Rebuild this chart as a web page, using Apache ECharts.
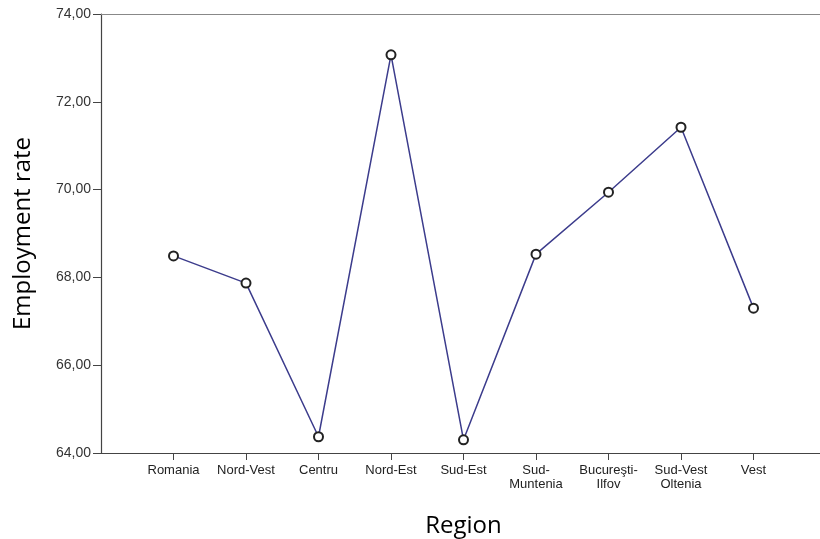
<!DOCTYPE html>
<html>
<head>
<meta charset="utf-8">
<script src="https://cdn.jsdelivr.net/npm/echarts@6/dist/echarts.min.js"></script>
<style>html,body{margin:0;padding:0;background:#fff;}#c{width:820px;height:539px;}</style>
</head>
<body>
<div id="c"></div>
<script>
const regions = ['Romania', 'Nord-Vest', 'Centru', 'Nord-Est', 'Sud-Est', 'Sud-\nMuntenia', 'Bucureşti-\nIlfov', 'Sud-Vest\nOltenia', 'Vest'];
const employmentRate = [68.49, 67.87, 64.37, 73.07, 64.30, 68.53, 69.94, 71.42, 67.30];
const yTicks = [64, 66, 68, 70, 72, 74];

const cats = [''].concat(regions, ['']);
const vals = [null].concat(employmentRate, [null]);

const chart = echarts.init(document.getElementById('c'), null, {renderer: 'canvas'});
chart.setOption({
  animation: false,
  backgroundColor: '#ffffff',
  grid: {left: 101, top: 14, width: 725, height: 439, containLabel: false, outerBoundsMode: 'none'},
  xAxis: [{
    type: 'category',
    data: cats,
    boundaryGap: false,
    axisLine: {lineStyle: {color: '#444', width: 1.2}},
    axisTick: {length: 7, lineStyle: {color: '#444'}, interval: function (i, v) { return v !== ''; }},
    axisLabel: {interval: 0, color: '#222', fontFamily: 'Liberation Sans, Arial, sans-serif', fontSize: 13, lineHeight: 14, margin: 10},
    splitLine: {show: false},
    name: 'Region',
    nameLocation: 'middle',
    nameGap: 61,
    nameTextStyle: {fontFamily: 'Open Sans, Lato, sans-serif', fontSize: 24, color: '#000'}
  }, {
    type: 'category',
    position: 'top',
    data: cats,
    boundaryGap: false,
    axisLine: {lineStyle: {color: '#888', width: 1.2}},
    axisTick: {show: false},
    axisLabel: {show: false}
  }],
  yAxis: {
    type: 'value',
    min: yTicks[0],
    max: yTicks[yTicks.length - 1],
    interval: 2,
    axisLine: {show: true, lineStyle: {color: '#444', width: 1.2}},
    axisTick: {show: true, length: 8, lineStyle: {color: '#444'}},
    axisLabel: {color: '#333', fontFamily: 'Liberation Sans, Arial, sans-serif', fontSize: 14, margin: 10,
      formatter: function (v) { return v.toFixed(2).replace('.', ','); }},
    splitLine: {show: false},
    name: 'Employment rate',
    nameLocation: 'middle',
    nameGap: 66,
    nameRotate: 90,
    nameTextStyle: {fontFamily: 'Open Sans, Lato, sans-serif', fontSize: 24, color: '#000'}
  },
  series: [{
    type: 'line',
    data: vals,
    connectNulls: false,
    symbol: 'emptyCircle',
    symbolSize: 9,
    lineStyle: {color: '#3c3c8c', width: 1.5},
    itemStyle: {color: '#222', borderColor: '#333', borderWidth: 1}
  }]
});
</script>
</body>
</html>
